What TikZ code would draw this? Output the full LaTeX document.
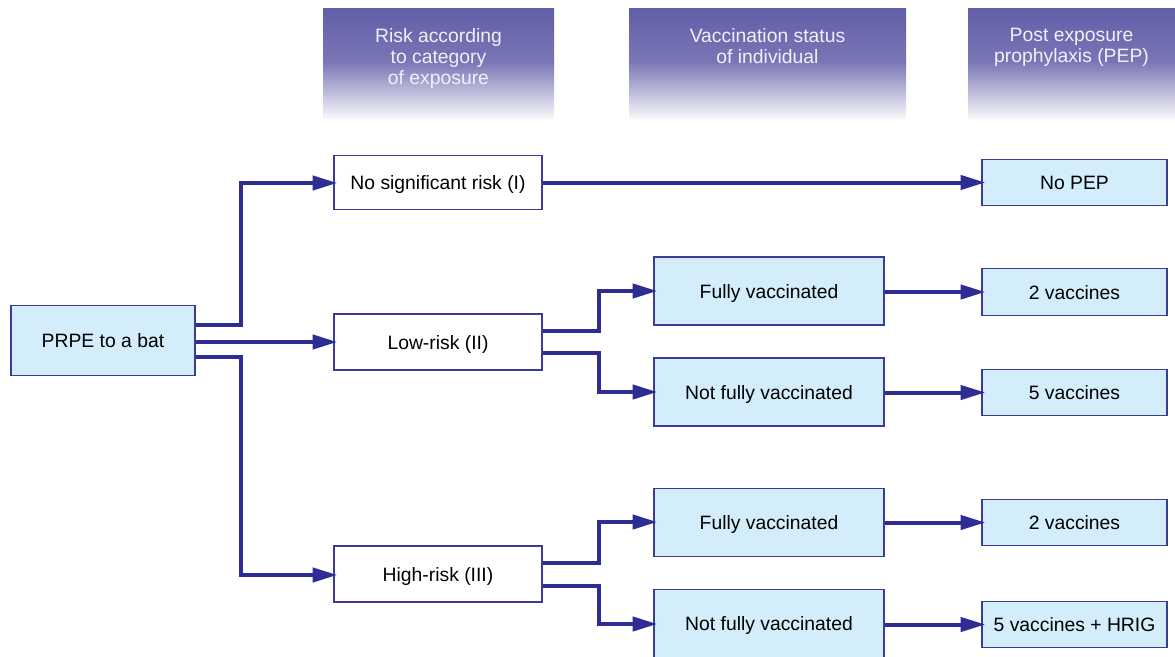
\documentclass[tikz,border=0pt]{standalone}
\usepackage{fontspec}
\setmainfont{Liberation Sans}
\usetikzlibrary{arrows.meta,positioning}
\definecolor{linec}{RGB}{45,45,148}
\definecolor{boxfill}{RGB}{212,237,250}
\definecolor{boxdraw}{RGB}{60,60,150}
\definecolor{hdrtop}{RGB}{98,94,168}
\definecolor{hdrtxt}{RGB}{240,240,250}
\tikzset{
  x=0.75pt, y=-0.75pt,
  base/.style={font=\fontsize{14.5}{17}\selectfont, inner sep=0pt, align=center, text=black, text height=11pt, text depth=0pt},
  bluebox/.style={base, draw=boxdraw, fill=boxfill, line width=0.9pt},
  whitebox/.style={base, draw=boxdraw, fill=white, line width=0.9pt},
  conn/.style={draw=linec, line width=3pt, -{Triangle[length=18.5pt,width=10.5pt]}, shorten >=-3pt},
  hdrtext/.style={font=\fontsize{14.5}{16}\selectfont, text=hdrtxt, align=center, inner sep=0pt, anchor=north},
  hdrshade/.style={top color=hdrtop, bottom color=hdrtop!85}
}
\begin{document}
\begin{tikzpicture}
\useasboundingbox (0,0) rectangle (1175,657);
% headers
\foreach \a/\b in {323/554, 629/906, 968/1175} {
  \shade[hdrshade] (\a,8) rectangle (\b,62);
  \shade[top color=hdrtop!85, bottom color=hdrtop!5] (\a,61.5) rectangle (\b,118);
}
\node[hdrtext] (h1) at (438.5,28) {Risk according\\to category\\of exposure};
\node[hdrtext] (h2) at (767.5,28) {Vaccination status\\of individual};
\node[hdrtext] (h3) at (1071.5,28) {Post exposure\\prophylaxis (PEP)};
% nodes
\node[bluebox, minimum width=138pt, minimum height=52pt] (prpe) at (103,340.5) {PRPE to a bat};
\node[whitebox, minimum width=156pt, minimum height=41pt] (nsr) at (438,182.5) {No significant risk (I)};
\node[whitebox, minimum width=156pt, minimum height=42pt] (low) at (438,342) {Low-risk (II)};
\node[whitebox, minimum width=156pt, minimum height=42pt] (high) at (438,574) {High-risk (III)};
\node[bluebox, minimum width=172.5pt, minimum height=51pt] (fv1) at (769,291) {Fully vaccinated};
\node[bluebox, minimum width=172.5pt, minimum height=51pt] (nfv1) at (769,392) {Not fully vaccinated};
\node[bluebox, minimum width=172.5pt, minimum height=51pt] (fv2) at (769,522.5) {Fully vaccinated};
\node[bluebox, minimum width=172.5pt, minimum height=51pt] (nfv2) at (769,623.5) {Not fully vaccinated};
\node[bluebox, minimum width=138.75pt, minimum height=35pt] (nopep) at (1074.5,182.5) {No PEP};
\node[bluebox, minimum width=138.75pt, minimum height=35pt] (v2a) at (1074.5,292) {2 vaccines};
\node[bluebox, minimum width=138.75pt, minimum height=35pt] (v5a) at (1074.5,392.5) {5 vaccines};
\node[bluebox, minimum width=138.75pt, minimum height=35pt] (v2b) at (1074.5,522.5) {2 vaccines};
\node[bluebox, minimum width=138.75pt, minimum height=35pt] (v5b) at (1074.5,624.5) {5 vaccines + HRIG};
% connectors from PRPE
\draw[conn] (prpe.east |- 0,325) -| (241,183) -- (nsr.west |- 0,183);
\draw[conn] (prpe.east |- 0,342) -- (low.west |- 0,342);
\draw[conn] (prpe.east |- 0,357) -| (241,575) -- (high.west |- 0,575);
% from low-risk
\draw[conn] (low.east |- 0,331) -| (599,291) -- (fv1.west |- 0,291);
\draw[conn] (low.east |- 0,353) -| (599,392) -- (nfv1.west |- 0,392);
% from high-risk
\draw[conn] (high.east |- 0,563) -| (599,522) -- (fv2.west |- 0,522);
\draw[conn] (high.east |- 0,586) -| (599,624) -- (nfv2.west |- 0,624);
% to PEP
\draw[conn] (nsr.east) -- (nopep.west);
\draw[conn] (fv1.east |- v2a.west) -- (v2a.west);
\draw[conn] (nfv1.east |- v5a.west) -- (v5a.west);
\draw[conn] (fv2.east |- v2b.west) -- (v2b.west);
\draw[conn] (nfv2.east |- v5b.west) -- (v5b.west);
\end{tikzpicture}
\end{document}
